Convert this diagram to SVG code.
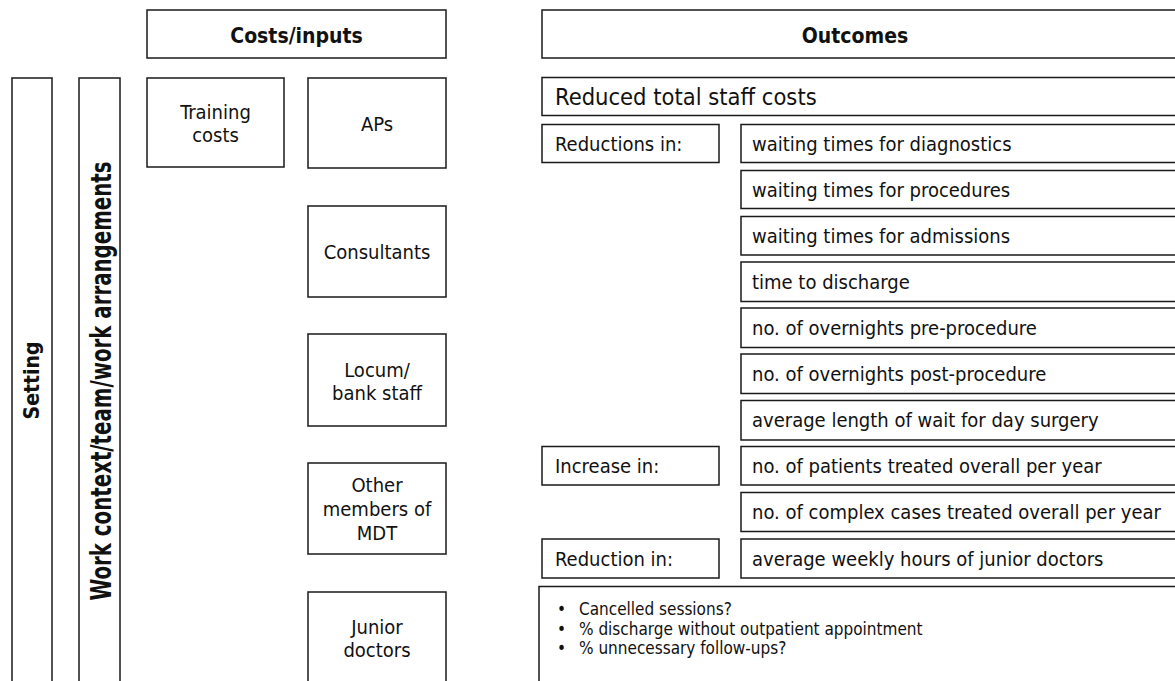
<svg xmlns="http://www.w3.org/2000/svg" width="1175" height="681" viewBox="0 0 1175 681">
<style>
rect{fill:#fff;stroke:#1a1a1a;stroke-width:1.5}
text{font-family:"DejaVu Sans Condensed","DejaVu Sans","Liberation Sans",sans-serif;font-size:20px;fill:#111}
.c{text-anchor:middle}
.b{font-weight:bold;font-size:21px}
.big{font-size:23.5px}
.sm{font-size:17px}
</style>
<g id="costs-header"><rect x="147" y="10" width="299" height="48"/><text class="c b" x="296.5" y="42.5">Costs/inputs</text></g>
<g id="outcomes-header"><rect x="542" y="10" width="700" height="48"/><text class="c b" x="855" y="42.5">Outcomes</text></g>
<g id="setting"><rect x="12" y="78" width="40" height="640"/><text class="c b" transform="translate(38.5 380.5) rotate(-90)">Setting</text></g>
<g id="work-context"><rect x="79" y="78" width="41" height="640"/><text class="c b" style="font-size:22px" transform="translate(111 381) rotate(-90) scale(1 1.3)">Work context/team/work arrangements</text></g>
<g id="training"><rect x="147" y="78" width="137" height="89"/><text class="c" x="215.5" y="119">Training</text><text class="c" x="215.5" y="142">costs</text></g>
<g id="aps"><rect x="308" y="78" width="138" height="90"/><text class="c" x="377" y="131">APs</text></g>
<g id="consultants"><rect x="308" y="206" width="138" height="91"/><text class="c" x="377" y="259">Consultants</text></g>
<g id="locum"><rect x="308" y="334" width="138" height="92"/><text class="c" x="377" y="377">Locum/</text><text class="c" x="377" y="400">bank staff</text></g>
<g id="other-mdt"><rect x="308" y="463" width="138" height="91"/><text class="c" x="377" y="492">Other</text><text class="c" x="377" y="516">members of</text><text class="c" x="377" y="540">MDT</text></g>
<g id="junior"><rect x="308" y="592" width="138" height="120"/><text class="c" x="377" y="634">Junior</text><text class="c" x="377" y="657">doctors</text></g>
<g id="reduced-costs"><rect x="542" y="77.5" width="700" height="38"/><text class="big" x="555" y="105">Reduced total staff costs</text></g>
<g id="reductions-in"><rect x="542" y="124.5" width="177" height="38"/><text x="555" y="151">Reductions in:</text></g>
<g id="o1"><rect x="741" y="124.5" width="600" height="38"/><text x="752" y="151">waiting times for diagnostics</text></g>
<g id="o2"><rect x="741" y="170.5" width="600" height="38"/><text x="752" y="197">waiting times for procedures</text></g>
<g id="o3"><rect x="741" y="216.5" width="600" height="38.5"/><text x="752" y="243">waiting times for admissions</text></g>
<g id="o4"><rect x="741" y="262" width="600" height="39.5"/><text x="752" y="288.5">time to discharge</text></g>
<g id="o5"><rect x="741" y="308" width="600" height="39.5"/><text x="752" y="334.5">no. of overnights pre-procedure</text></g>
<g id="o6"><rect x="741" y="354" width="600" height="39.5"/><text x="752" y="380.5">no. of overnights post-procedure</text></g>
<g id="o7"><rect x="741" y="400.5" width="600" height="39.5"/><text x="752" y="427">average length of wait for day surgery</text></g>
<g id="increase-in"><rect x="542" y="446.5" width="177" height="38.5"/><text x="555" y="473">Increase in:</text></g>
<g id="o8"><rect x="741" y="446.5" width="600" height="38.5"/><text x="752" y="473">no. of patients treated overall per year</text></g>
<g id="o9"><rect x="741" y="492.5" width="600" height="39"/><text x="752" y="519">no. of complex cases treated overall per year</text></g>
<g id="reduction-in"><rect x="542" y="539" width="177" height="39"/><text x="555" y="565.5">Reduction in:</text></g>
<g id="o10"><rect x="741" y="539" width="600" height="39"/><text x="752" y="565.5">average weekly hours of junior doctors</text></g>
<g id="other-outcomes"><rect x="539" y="586.5" width="700" height="140"/>
<text class="sm" x="557" y="615">•</text><text class="sm" x="579" y="615">Cancelled sessions?</text>
<text class="sm" x="557" y="635">•</text><text class="sm" x="579" y="635">% discharge without outpatient appointment</text>
<text class="sm" x="557" y="654">•</text><text class="sm" x="579" y="654">% unnecessary follow-ups?</text></g>
<g id="connectors"></g>
</svg>
